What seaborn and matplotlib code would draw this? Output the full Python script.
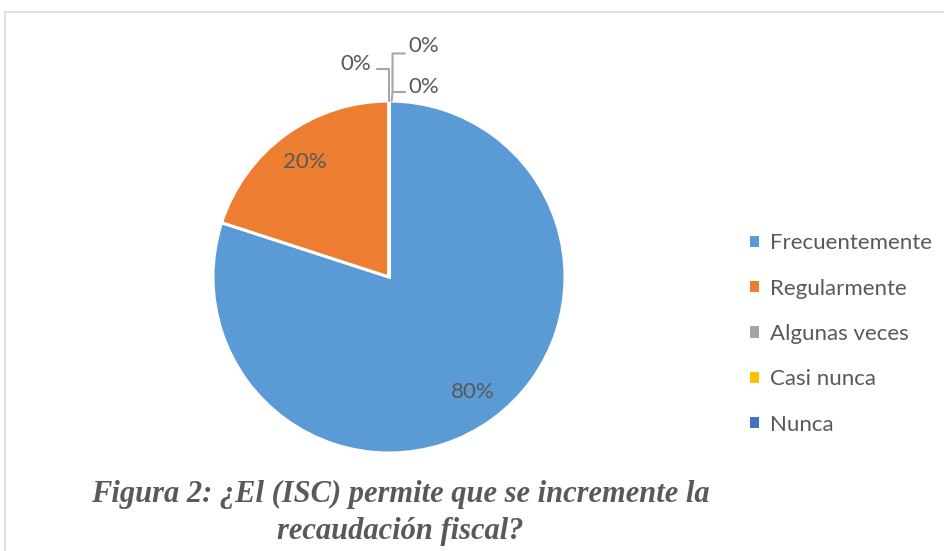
import numpy as np
import matplotlib
matplotlib.use("Agg")
import matplotlib.pyplot as plt
import seaborn as sns
from matplotlib.patches import Rectangle, Patch

# datos
categorias = ["Frecuentemente", "Regularmente", "Algunas veces", "Casi nunca", "Nunca"]
porcentajes = [80, 20, 0, 0, 0]
colores = ["#5B9BD5", "#ED7D31", "#A5A5A5", "#FFC000", "#4472C4"]
titulo = "Figura 2: ¿El (ISC) permite que se incremente la\nrecaudación fiscal?"

sns.set_theme(style="white")
plt.rcParams['font.family'] = ['Lato', 'DejaVu Sans']
gris = "#595959"

fig = plt.figure(figsize=(9.44, 5.51), dpi=100)
W, H = 944, 551

# marco del grafico
fig.patches.append(Rectangle((5 / W, -0.1), 1.2, 1 - 12 / H + 0.1, transform=fig.transFigure,
                             fill=False, edgecolor="#d9d9d9", linewidth=1.2))

cx, cy, r = 389, 277, 176
ax = fig.add_axes([(cx - r) / W, 1 - (cy + r) / H, 2 * r / W, 2 * r / H])

pal = sns.color_palette(colores)
wedges, _ = ax.pie(porcentajes, colors=pal, startangle=90, counterclock=False,
                   wedgeprops=dict(edgecolor="white", linewidth=2.2))
ax.set_xlim(-1, 1)
ax.set_ylim(-1, 1)
ax.set_aspect("equal")
ax.axis("off")

# etiquetas de porcentaje
for w, v in zip(wedges, porcentajes):
    if v == 0:
        continue
    ang = np.deg2rad((w.theta1 + w.theta2) / 2)
    ax.text(0.81 * np.cos(ang), 0.81 * np.sin(ang), f"{v}%", ha="center", va="center",
            fontsize=16, color=gris)

# etiquetas de los 0% con lineas guia
lc = "#a6a6a6"
ax.plot([0, 0, -0.07], [1.0, 1.18, 1.18], color=lc, lw=1.5, clip_on=False)
ax.plot([0.015, 0.02, 0.02, 0.09], [1.0, 1.05, 1.27, 1.27], color=lc, lw=1.5, clip_on=False)
ax.plot([0.02, 0.09], [1.05, 1.05], color=lc, lw=1.5, clip_on=False)
ax.text(-0.19, 1.21, "0%", ha="center", va="center", fontsize=16, color=gris)
ax.text(0.11, 1.31, "0%", ha="left", va="center", fontsize=16, color=gris)
ax.text(0.11, 1.08, "0%", ha="left", va="center", fontsize=16, color=gris)

# leyenda
handles = [Patch(facecolor=c, edgecolor="none") for c in pal]
leg = fig.legend(handles, categorias, loc="center left", bbox_to_anchor=(730 / W, 1 - 334 / H),
                 frameon=False, fontsize=16, handlelength=0.4, handleheight=0.4,
                 handletextpad=0.5, labelspacing=1.14)
for t in leg.get_texts():
    t.set_color(gris)

fig.text(400 / W, 1 - 513 / H, titulo, ha="center", va="center", fontsize=22,
         family="Liberation Serif", style="italic", weight="bold", color=gris,
         linespacing=1.4)

fig.savefig("out.png", dpi=100)
